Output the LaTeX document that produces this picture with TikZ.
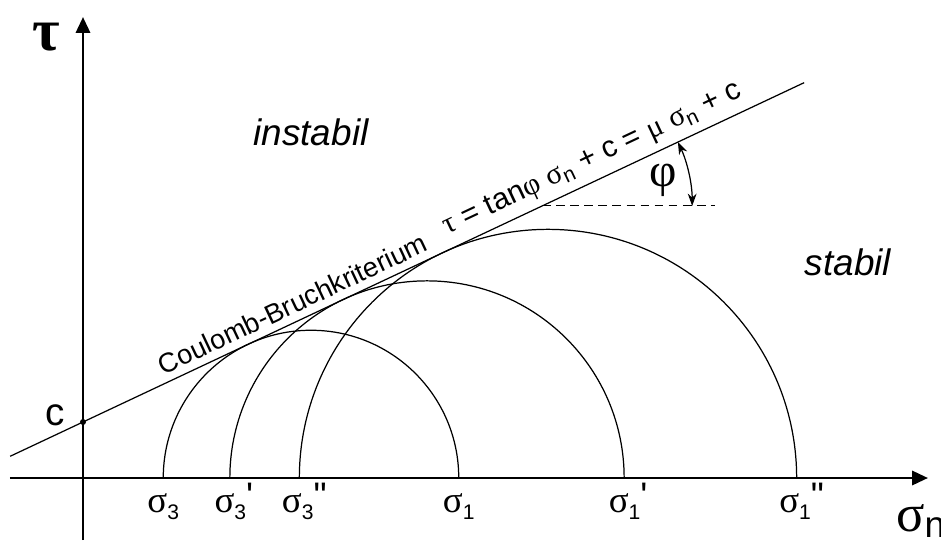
\documentclass[tikz,border=0pt]{standalone}
\usepackage{fontspec}
\setmainfont{Liberation Sans}
\newfontfamily\grk{Liberation Serif}
\usetikzlibrary{arrows.meta,calc}

\newcommand{\sgm}[2]{{\grk σ}\textsubscript{#1}#2}
\newcommand{\sglab}[2]{{\grk σ}\raisebox{-4pt}{\fontsize{12}{13}\selectfont #1}\raisebox{2pt}{#2}}

\begin{document}
\begin{tikzpicture}[
		axis/.style={line width=1.6pt,-{Triangle[length=9pt,width=8pt]}},
		curve/.style={line width=0.7pt},
		siglabel/.style={anchor=base,font=\fontsize{21}{24}\selectfont},
		region/.style={font=\fontsize{21}{25}\selectfont\itshape},
		linetext/.style={sloped,above,inner sep=4pt}]
	\useasboundingbox (-1.66,-1.34) rectangle (17.16,9.56);
	% axes
	\coordinate (xstart) at (-1.46,0);
	\coordinate (xend) at (16.9,0);
	\coordinate (ystart) at (0,-1.24);
	\coordinate (yend) at (0,9.22);
	\draw[axis] (xstart) -- (xend);
	\draw[axis] (ystart) -- (yend);
	\node (tau) at (-0.74,8.82) {\grk\bfseries\fontsize{34}{36}\selectfont τ};
	\node[anchor=west] (sign) at (16.14,-0.86) {\fontsize{30}{32}\selectfont\sgm{n}{}};
	% Mohr circles
	\coordinate (s3) at (1.605,0);
	\coordinate (s3p) at (2.937,0);
	\coordinate (s3pp) at (4.327,0);
	\coordinate (s1) at (7.515,0);
	\coordinate (s1p) at (10.823,0);
	\coordinate (s1pp) at (14.273,0);
	\draw[curve] (s1) arc[start angle=0,end angle=180,radius=2.955];
	\draw[curve] (s1p) arc[start angle=0,end angle=180,radius=3.943];
	\draw[curve] (s1pp) arc[start angle=0,end angle=180,radius=4.973];
	\node[siglabel] (l3) at ($(s3)+(0,-0.68)$) {\sglab{3}{}};
	\node[siglabel] (l3p) at ($(s3p)+(0.08,-0.68)$) {\sglab{3}{\textquotesingle}};
	\node[siglabel] (l3pp) at ($(s3pp)+(0.1,-0.68)$) {\sglab{3}{\textquotedbl}};
	\node[siglabel] (l1) at ($(s1)+(0,-0.68)$) {\sglab{1}{}};
	\node[siglabel] (l1p) at ($(s1p)+(0.08,-0.68)$) {\sglab{1}{\textquotesingle}};
	\node[siglabel] (l1pp) at ($(s1pp)+(0.1,-0.68)$) {\sglab{1}{\textquotedbl}};
	% Coulomb line
	\coordinate (c) at (0,1.12);
	\fill (c) circle (0.06);
	\node (clabel) at (-0.56,1.26) {\fontsize{22}{24}\selectfont c};
	\coordinate (lineL) at ($(c)+(205.2:1.61)$);
	\coordinate (lineR) at ($(c)+(25.2:15.94)$);
	\draw[curve] (lineL) -- (lineR)
		node[linetext,pos=0.365,font=\fontsize{15.5}{18}\selectfont] (crit) {Coulomb-Bruchkriterium}
		node[linetext,pos=0.745,font=\fontsize{17}{19}\selectfont] (eq) {{\grk τ} = tan{\grk φ} \sgm{n}{} + c = {\grk μ} \sgm{n}{} + c};
	% friction angle
	\coordinate (apex) at ($(c)+(25.2:10.15)$);
	\coordinate (dashend) at ($(apex)+(3.46,0)$);
	\draw[line width=0.6pt,dash pattern=on 5pt off 3pt] (apex) -- (dashend);
	\draw[{Stealth[length=7pt,width=5pt]}-{Stealth[length=7pt,width=5pt]},line width=0.7pt] ($(apex)+(3,0)$) arc[start angle=0,end angle=25.2,radius=3];
	\node (phi) at ($(apex)+(2.42,0.52)$) {\grk\fontsize{27}{29}\selectfont φ};
	% regions
	\node[region] (instabil) at (4.56,6.92) {instabil};
	\node[region] (stabil) at (15.3,4.32) {stabil};
\end{tikzpicture}
\end{document}
